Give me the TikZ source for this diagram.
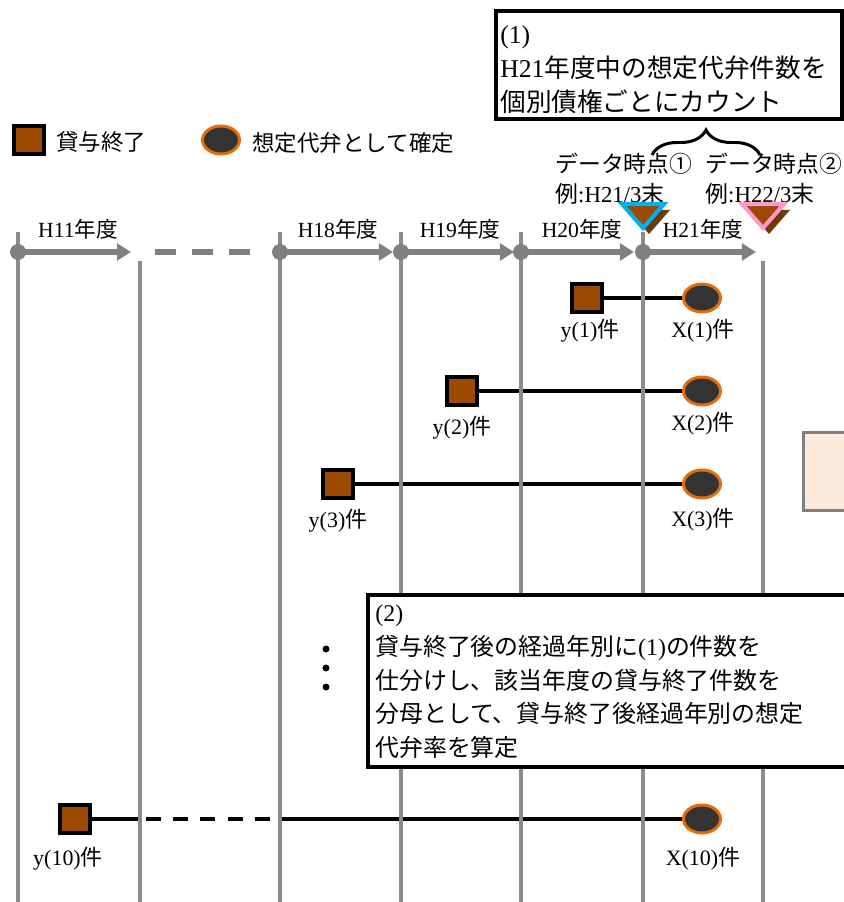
\documentclass[tikz,border=0pt]{standalone}
\usepackage{fontspec}
\setmainfont{Noto Sans CJK JP}
\newfontfamily\latf{Liberation Serif}
\newcommand\Lat[1]{{\latf #1}}
\usetikzlibrary{arrows.meta,decorations.pathreplacing,shapes.geometric}
\definecolor{brn}{RGB}{156,74,0}
\definecolor{dbrn}{RGB}{112,56,4}
\definecolor{dkg}{RGB}{51,51,51}
\definecolor{org}{RGB}{228,108,10}
\definecolor{gry}{RGB}{128,128,128}
\definecolor{vgry}{RGB}{140,140,140}
\definecolor{cyn}{RGB}{0,176,240}
\definecolor{pnk}{RGB}{255,153,204}
\definecolor{pch}{RGB}{253,234,218}
\pgfdeclarelayer{bg}
\pgfdeclarelayer{mid}
\pgfsetlayers{bg,mid,main}
\begin{document}
\begin{tikzpicture}[x=0.02cm,y=-0.02cm,
  endsq/.style={draw=black,line width=2.3pt,fill=brn,minimum width=0.6cm,minimum height=0.56cm,inner sep=0pt},
  confel/.style={ellipse,draw=org,line width=1.7pt,fill=dkg,minimum width=0.74cm,minimum height=0.56cm,inner sep=0pt},
  conn/.style={draw=black,line width=2.3pt},
  vline/.style={draw=vgry,line width=2.3pt},
  tarrow/.style={draw=gry,line width=3.4pt,-{Triangle[length=8pt,width=9.5pt]}},
  tdot/.style={circle,fill=gry,minimum size=0.32cm,inner sep=0pt},
  lbl/.style={inner sep=0pt,font=\fontsize{12.3pt}{14pt}\selectfont},
  rowlbl/.style={inner sep=0pt,font=\fontsize{12.5pt}{14pt}\selectfont},
  legtxt/.style={inner sep=0pt,anchor=west,font=\fontsize{12.8pt}{15pt}\selectfont},
  callout/.style={draw=black,line width=2.3pt,fill=white,inner sep=0pt,anchor=north west},
  calltxt/.style={anchor=north west,inner sep=0pt,align=left},
  tri/.style={line width=2.3pt,fill=brn,line join=miter},
]
\useasboundingbox (0,0) rectangle (843,902);

% legend
\node[endsq] (legsq) at (29,140) {};
\node[legtxt] (legsqt) at (56,142) {貸与終了};
\node[confel] (legel) at (221,140) {};
\node[legtxt] (legelt) at (252,143) {想定代弁として確定};

% callout (1)
\node[callout,minimum width=6.92cm,minimum height=2.16cm] (box1) at (494,9) {};
\node[calltxt,font=\fontsize{14.6pt}{19.3pt}\selectfont] (box1t) at (500,18.3)
  {\rule{0pt}{14pt}\Lat{(1)}\\\Lat{H21}年度中の想定代弁件数を\\個別債権ごとにカウント};

% brace
\coordinate (br1) at (652,155);
\coordinate (br2) at (760,155);
\draw[line width=1.7pt,decorate,decoration={brace,amplitude=0.5cm}] (br1) -- (br2);

% data points
\node[calltxt,font=\fontsize{13pt}{17pt}\selectfont] (dp1) at (555,147.3)
  {\rule{0pt}{14pt}データ時点①\\例\Lat{:H21/3}末};
\node[calltxt,font=\fontsize{13pt}{17pt}\selectfont] (dp2) at (705,147.3)
  {\rule{0pt}{14pt}データ時点②\\例\Lat{:H22/3}末};

% triangles
\fill[dbrn] (628,210) -- (670,210) -- (649,234) -- cycle;
\draw[tri,draw=cyn] (622,204) -- (664,204) -- (643,228) -- cycle;
\fill[dbrn] (748,210) -- (790,210) -- (769,234) -- cycle;
\draw[tri,draw=pnk] (742,204) -- (784,204) -- (763,228) -- cycle;

% timeline labels
\node[lbl] (h11) at (78,229) {\Lat{H11}年度};
\node[lbl] (h18) at (338,229) {\Lat{H18}年度};
\node[lbl] (h19) at (460,229) {\Lat{H19}年度};
\node[lbl] (h20) at (582,229) {\Lat{H20}年度};
\node[lbl] (h21) at (703,229) {\Lat{H21}年度};

\begin{pgfonlayer}{mid}
  \foreach \x in {18,280,401,521,643} \draw[vline] (\x,232) -- (\x,902);
  \foreach \x in {140,763} \draw[vline] (\x,261) -- (\x,902);
  \node[tdot] (d1) at (18,252) {};
  \node[tdot] (d2) at (280,252) {};
  \node[tdot] (d3) at (401,252) {};
  \node[tdot] (d4) at (521,252) {};
  \node[tdot] (d5) at (643,252) {};
  \coordinate (a1) at (131,252);
  \coordinate (a2) at (393,252);
  \coordinate (a3) at (514,252);
  \coordinate (a4) at (634,252);
  \coordinate (a5) at (756,252);
  \coordinate (g1) at (155,252);
  \coordinate (g2) at (252,252);
  \draw[tarrow] (d1.center) -- (a1);
  \draw[tarrow] (d2.center) -- (a2);
  \draw[tarrow] (d3.center) -- (a3);
  \draw[tarrow] (d4.center) -- (a4);
  \draw[tarrow] (d5.center) -- (a5);
  \draw[draw=gry,line width=3.4pt,dash pattern=on 12pt off 9pt] (g1) -- (g2);
\end{pgfonlayer}

% rows
\node[endsq] (y1) at (587,298) {};
\node[confel] (x1) at (702,298) {};
\node[rowlbl] (y1t) at (590,331) {\Lat{y(1)}件};
\node[rowlbl] (x1t) at (703,331) {\Lat{X(1)}件};

\node[endsq] (y2) at (462,391) {};
\node[confel] (x2) at (702,391) {};
\node[rowlbl] (y2t) at (462,428) {\Lat{y(2)}件};
\node[rowlbl] (x2t) at (703,424) {\Lat{X(2)}件};

\node[endsq] (y3) at (338,484) {};
\node[confel] (x3) at (702,484) {};
\node[rowlbl] (y3t) at (338,521) {\Lat{y(3)}件};
\node[rowlbl] (x3t) at (703,520) {\Lat{X(3)}件};

\node[endsq] (y10) at (75,819) {};
\node[confel] (x10) at (702,819) {};
\node[rowlbl] (y10t) at (68,859) {\Lat{y(10)}件};
\node[rowlbl] (x10t) at (703,859) {\Lat{X(10)}件};
\coordinate (c10a) at (141,819);
\coordinate (c10b) at (146,819);
\coordinate (c10c) at (274,819);
\coordinate (c10d) at (279,819);

\begin{pgfonlayer}{bg}
  \draw[conn] (y1) -- (x1);
  \draw[conn] (y2) -- (x2);
  \draw[conn] (y3) -- (x3);
  \draw[conn] (y10) -- (c10a);
  \draw[conn,dash pattern=on 8.5pt off 7pt] (c10b) -- (c10c);
  \draw[conn] (c10d) -- (x10);
\end{pgfonlayer}

% vertical dots
\fill (326,649) circle[radius=0.07cm];
\fill (326,668) circle[radius=0.07cm];
\fill (326,687) circle[radius=0.07cm];

% peach box at right edge
\node[draw=gry,line width=1.7pt,fill=pch,anchor=north west,minimum width=1.2cm,minimum height=1.56cm,inner sep=0pt] (peach) at (802,431) {};

% callout (2)
\node[callout,minimum width=9.9cm,minimum height=3.44cm] (box2) at (366,593) {};
\node[calltxt,font=\fontsize{13.6pt}{19.3pt}\selectfont] (box2t) at (375,596.3)
  {\rule{0pt}{14pt}\Lat{(2)}\\貸与終了後の経過年別に\Lat{(1)}の件数を\\仕分けし、該当年度の貸与終了件数を\\分母として、貸与終了後経過年別の想定\\代弁率を算定};
\end{tikzpicture}
\end{document}
